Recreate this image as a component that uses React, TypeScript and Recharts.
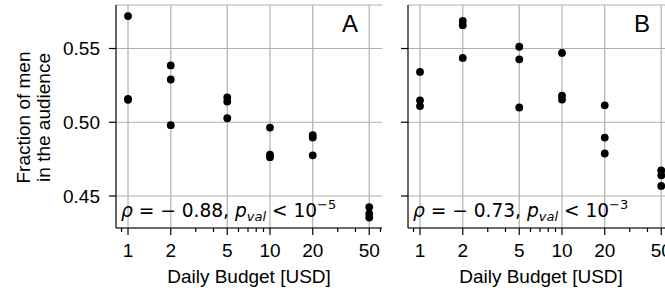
import { ScatterChart, Scatter, XAxis, YAxis, CartesianGrid, Customized } from "recharts";

// daily budgets tested (USD)
const budgets = [1, 2, 5, 10, 20, 50];
const majorTicks = [1, 2, 5, 10, 20, 50];
const allTicks = [0.9, 1, 2, 3, 4, 5, 6, 7, 8, 9, 10, 20, 30, 40, 50, 60];
const fractionTicks = [0.45, 0.5, 0.55];

// fraction of men reached, three runs per budget
const menA = [
  [0.572, 0.5158, 0.5152],
  [0.5385, 0.529, 0.498],
  [0.5168, 0.514, 0.5027],
  [0.4964, 0.478, 0.4763],
  [0.4913, 0.4897, 0.4776],
  [0.4425, 0.438, 0.4354],
];
const menB = [
  [0.5341, 0.5149, 0.511],
  [0.5687, 0.5658, 0.5436],
  [0.5512, 0.5427, 0.51],
  [0.547, 0.5181, 0.5154],
  [0.5115, 0.4896, 0.4788],
  [0.4674, 0.464, 0.4568],
];

const toPoints = (vals: number[][]) =>
  budgets.flatMap((b, i) => vals[i].map((f) => ({ budget: b, fraction: f })));

const FONT = "'Liberation Sans', Arial, sans-serif";
const MATH = "'DejaVu Sans', sans-serif";

function BudgetTick(props: any) {
  const { x, y, payload } = props;
  const major = majorTicks.includes(payload.value);
  return (
    <g>
      <line x1={x} x2={x} y1={y} y2={y + (major ? 7 : 4)} stroke="#000" strokeWidth={1.2} />
      {major && (
        <text x={x} y={y + 29} textAnchor="middle" fontSize={19} fontFamily={FONT} fill="#000">
          {payload.value}
        </text>
      )}
    </g>
  );
}

const Dot = (p: any) => <circle cx={p.cx} cy={p.cy} r={3.9} fill="#000" />;

function Panel({
  vals,
  letter,
  rho,
  exp,
  width,
  yWidth,
  right,
  first,
}: {
  vals: number[][];
  letter: string;
  rho: string;
  exp: string;
  width: number;
  yWidth: number;
  right: number;
  first: boolean;
}) {
  const plotLeft = yWidth;
  const plotRight = width - right;
  return (
    <ScatterChart width={width} height={291} margin={{ top: 5, right, bottom: 0, left: 0 }}>
      <CartesianGrid stroke="#b0b0b0" strokeWidth={1.2} verticalValues={majorTicks} />
      <XAxis
        type="number"
        dataKey="budget"
        scale="log"
        domain={[0.823, 61.5]}
        allowDataOverflow
        ticks={allTicks}
        interval={0}
        tickLine={false}
        tickSize={0}
        tickMargin={0}
        tick={<BudgetTick />}
        height={63}
        axisLine={{ stroke: "#000", strokeWidth: 1.2 }}
        label={{
          value: "Daily Budget [USD]",
          position: "insideBottom",
          offset: 8,
          fontSize: 19,
          fontFamily: FONT,
          fill: "#000",
        }}
      />
      <YAxis
        type="number"
        dataKey="fraction"
        domain={[0.4283, 0.5795]}
        allowDataOverflow
        ticks={fractionTicks}
        width={yWidth}
        tickSize={7}
        tickMargin={9}
        tickFormatter={(v: number) => (first ? v.toFixed(2) : "")}
        tick={{ fontSize: 19, fill: "#000", fontFamily: FONT }}
        tickLine={{ stroke: "#000", strokeWidth: 1.2 }}
        axisLine={{ stroke: "#000", strokeWidth: 1.2 }}
      />
      <Scatter data={toPoints(vals)} fill="#000" shape={Dot} isAnimationActive={false} />
      <Customized
        component={
          <g>
            {first && (
              <g fontFamily={FONT} fontSize={19} fill="#000" textAnchor="middle">
                <text transform="translate(30,117.5) rotate(-90)">Fraction of men</text>
                <text transform="translate(50,117.5) rotate(-90)">in the audience</text>
              </g>
            )}
            <text x={plotRight - 40} y={32} fontFamily={FONT} fontSize={24} fill="#000">
              {letter}
            </text>
            <text x={plotLeft + 5} y={217} fontFamily={MATH} fontSize={18.6} fill="#000">
              <tspan fontStyle="italic">ρ</tspan>
              <tspan>{" = \u2212 " + rho + ", "}</tspan>
              <tspan fontStyle="italic">p</tspan>
              <tspan fontStyle="italic" fontSize={13} dy={4}>
                val
              </tspan>
              <tspan dy={-4}>{" < 10"}</tspan>
              <tspan fontSize={13} dy={-8}>
                {"\u2212" + exp}
              </tspan>
            </text>
          </g>
        }
      />
    </ScatterChart>
  );
}

export default function App() {
  return (
    <div
      style={{
        position: "fixed",
        left: 0,
        top: 0,
        width: 665,
        height: 291,
        overflow: "hidden",
        background: "#fff",
        fontFamily: FONT,
      }}
    >
      <div style={{ position: "absolute", left: 0, top: 0 }}>
        <Panel vals={menA} letter="A" rho="0.88" exp="5" width={390} yWidth={116} right={8} first />
      </div>
      <div style={{ position: "absolute", left: 390, top: 0 }}>
        <Panel vals={menB} letter="B" rho="0.73" exp="3" width={290} yWidth={18} right={6} first={false} />
      </div>
    </div>
  );
}
